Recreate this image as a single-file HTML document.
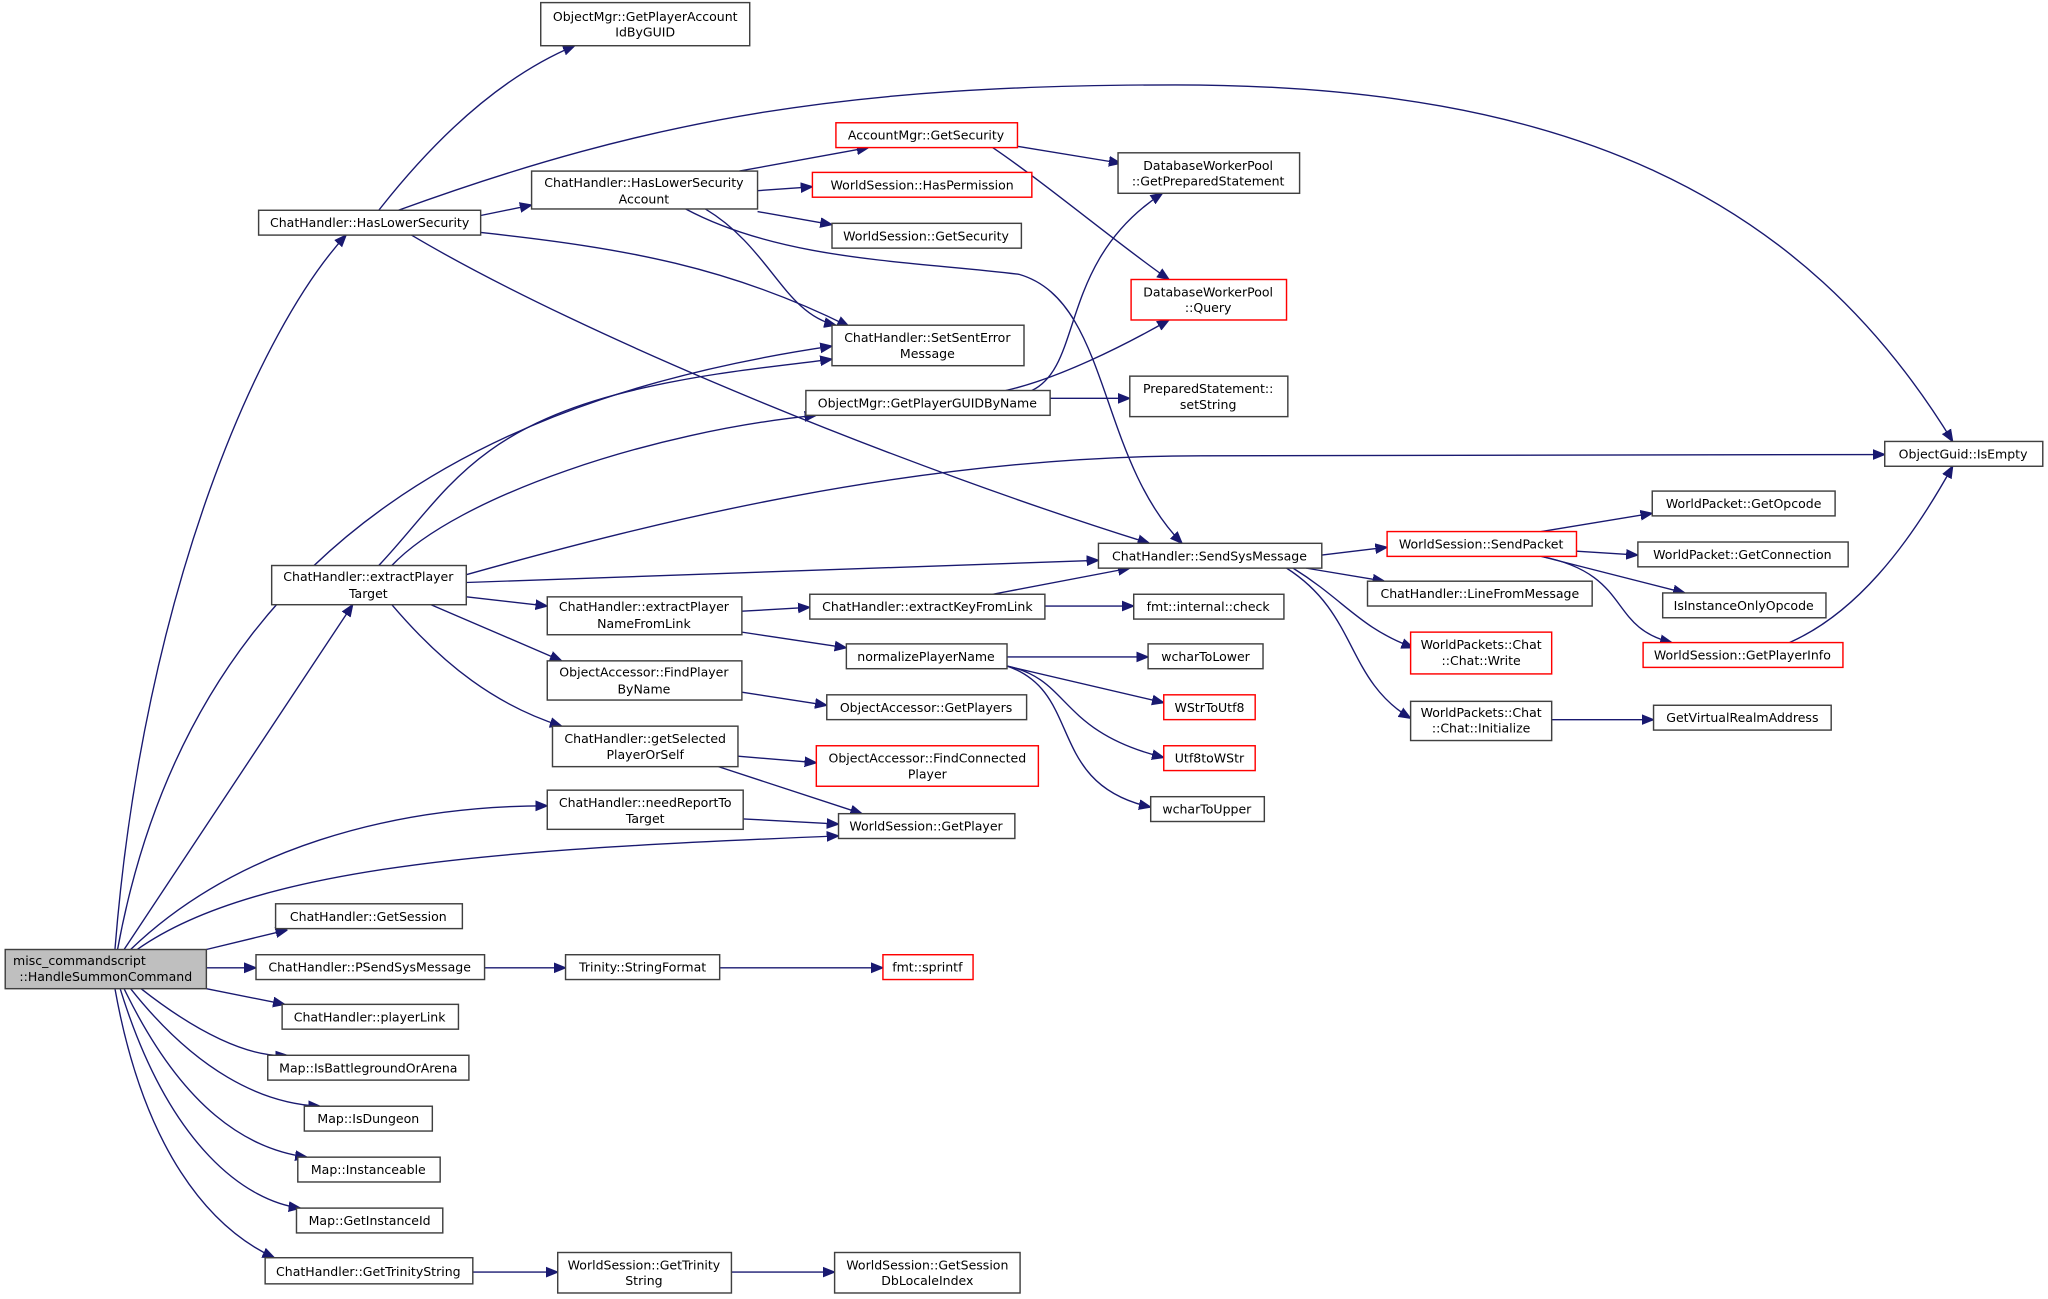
<!DOCTYPE html>
<html><head><meta charset="utf-8"><style>
html,body{margin:0;padding:0;background:#fff;}
svg{display:block}
text{font-family:"DejaVu Sans","Liberation Sans",sans-serif;font-size:9.6px;fill:#000;text-anchor:middle}
.b{fill:#fff;stroke:#404040;stroke-width:1.1}
.r{fill:#fff;stroke:#ff0000;stroke-width:1.1}
.g{fill:#bfbfbf;stroke:#404040;stroke-width:1.1}
path{fill:none;stroke:#191970;stroke-width:1.05;marker-end:url(#a)}
</style></head><body>
<svg width="2048" height="1299" viewBox="0 0 1568 994.6" preserveAspectRatio="none" xmlns="http://www.w3.org/2000/svg">
<defs><marker id="a" viewBox="0 0 10 10" refX="10" refY="5" markerWidth="9" markerHeight="9" markerUnits="userSpaceOnUse" orient="auto"><path d="M0,1 L10,5 L0,9 z" style="fill:#191970;stroke:#191970;marker-end:none"/></marker></defs>

<!-- edges -->
<path d="M88,727 C110,450 200,250 265,180"/>
<path d="M95,727 L270,463"/>
<path d="M90,727 C150,400 400,300 637,265"/>
<path d="M100,727 C180,650 300,617 419,617"/>
<path d="M105,727 C200,660 400,650 642,640"/>
<path d="M158,727 L220,712"/>
<path d="M158,741 L196,741"/>
<path d="M158,757 L218,769"/>
<path d="M108,757 C150,790 190,810 220,808"/>
<path d="M100,757 C150,820 200,845 245,847"/>
<path d="M95,757 C140,850 190,880 235,886"/>
<path d="M92,757 C130,880 190,920 230,925"/>
<path d="M88,757 C110,880 160,940 210,963"/>
<path d="M371,741 L433,741"/>
<path d="M551,741 L676,741"/>
<path d="M362,974 L427,974"/>
<path d="M560,974 L639,974"/>
<path d="M290,161 C330,110 380,60 440,35"/>
<path d="M368,165 L407,157"/>
<path d="M305,161 C500,90 650,65 900,65 C1200,65 1380,150 1495,338"/>
<path d="M368,178 C480,190 560,205 650,250"/>
<path d="M315,180 C450,260 700,360 880,416"/>
<path d="M566,131 L665,113"/>
<path d="M580,146 L622,143"/>
<path d="M580,162 L637,172"/>
<path d="M540,160 C590,190 600,240 640,249"/>
<path d="M525,160 C600,200 700,200 780,210 C850,230 840,350 905,416"/>
<path d="M779,112 L858,125"/>
<path d="M760,113 C800,140 860,190 895,214"/>
<path d="M290,433 C340,380 360,330 480,300 C540,285 600,280 637,275"/>
<path d="M300,433 C350,380 500,330 625,318"/>
<path d="M357,440 C500,400 700,349 920,349 L1443,348"/>
<path d="M357,446 L841,429"/>
<path d="M357,457 L419,464"/>
<path d="M330,463 L430,506"/>
<path d="M300,463 C340,510 380,540 430,556"/>
<path d="M790,299 C830,280 810,200 890,148"/>
<path d="M770,299 C810,290 860,265 895,245"/>
<path d="M804,305 L865,305"/>
<path d="M568,468 L620,465"/>
<path d="M568,484 L648,496"/>
<path d="M760,455 L865,435"/>
<path d="M800,464 L868,464"/>
<path d="M771,503 L879,503"/>
<path d="M771,510 L891,538"/>
<path d="M771,510 C820,520 810,560 891,580"/>
<path d="M771,510 C830,530 800,600 881,618"/>
<path d="M568,530 L633,540"/>
<path d="M565,579 L625,584"/>
<path d="M550,587 L660,623"/>
<path d="M569,627 L642,631"/>
<path d="M1012,425 L1062,419"/>
<path d="M1000,435 L1060,445"/>
<path d="M990,435 C1030,460 1040,480 1082,496"/>
<path d="M985,435 C1040,470 1030,520 1080,550"/>
<path d="M1180,407 L1265,393"/>
<path d="M1207,422 L1254,425"/>
<path d="M1180,426 L1290,454"/>
<path d="M1180,426 C1250,440 1230,480 1280,492"/>
<path d="M1370,492 C1420,470 1460,420 1495,357"/>
<path d="M1188,551 L1266,551"/>

<!-- nodes -->
<rect class="g" x="4" y="727" width="154" height="30"/><text x="81" y="739" style="text-anchor:start" transform="translate(-71,0)">misc_commandscript</text><text x="81" y="751">::HandleSummonCommand</text>
<rect class="b" x="414" y="2" width="160" height="33"/><text x="494" y="16">ObjectMgr::GetPlayerAccount</text><text x="494" y="28">IdByGUID</text>
<rect class="b" x="198" y="161" width="170" height="19"/><text x="283" y="174">ChatHandler::HasLowerSecurity</text>
<rect class="b" x="407" y="131" width="173" height="29"/><text x="493" y="143">ChatHandler::HasLowerSecurity</text><text x="493" y="156">Account</text>
<rect class="r" x="640" y="94" width="139" height="19"/><text x="709" y="107">AccountMgr::GetSecurity</text>
<rect class="r" x="622" y="132" width="168" height="19"/><text x="706" y="145">WorldSession::HasPermission</text>
<rect class="b" x="637" y="171" width="145" height="19"/><text x="709" y="184">WorldSession::GetSecurity</text>
<rect class="b" x="856" y="117" width="139" height="31"/><text x="925" y="130">DatabaseWorkerPool</text><text x="925" y="142">::GetPreparedStatement</text>
<rect class="r" x="866" y="214" width="119" height="31"/><text x="925" y="227">DatabaseWorkerPool</text><text x="925" y="239">::Query</text>
<rect class="b" x="637" y="249" width="147" height="31"/><text x="710" y="262">ChatHandler::SetSentError</text><text x="710" y="274">Message</text>
<rect class="b" x="617" y="299" width="187" height="19"/><text x="710" y="312">ObjectMgr::GetPlayerGUIDByName</text>
<rect class="b" x="865" y="288" width="121" height="31"/><text x="925" y="301">PreparedStatement::</text><text x="925" y="313">setString</text>
<rect class="b" x="1443" y="338" width="121" height="19"/><text x="1503" y="351">ObjectGuid::IsEmpty</text>
<rect class="b" x="208" y="433" width="149" height="30"/><text x="282" y="445">ChatHandler::extractPlayer</text><text x="282" y="458">Target</text>
<rect class="b" x="841" y="416" width="171" height="19"/><text x="926" y="429">ChatHandler::SendSysMessage</text>
<rect class="r" x="1062" y="407" width="145" height="19"/><text x="1134" y="420">WorldSession::SendPacket</text>
<rect class="b" x="1265" y="376" width="140" height="19"/><text x="1335" y="389">WorldPacket::GetOpcode</text>
<rect class="b" x="1254" y="415" width="161" height="19"/><text x="1334" y="428">WorldPacket::GetConnection</text>
<rect class="b" x="1273" y="454" width="125" height="19"/><text x="1335" y="467">IsInstanceOnlyOpcode</text>
<rect class="r" x="1258" y="492" width="153" height="19"/><text x="1334" y="505">WorldSession::GetPlayerInfo</text>
<rect class="b" x="1047" y="445" width="172" height="19"/><text x="1133" y="458">ChatHandler::LineFromMessage</text>
<rect class="r" x="1080" y="484" width="108" height="32"/><text x="1134" y="497">WorldPackets::Chat</text><text x="1134" y="509">::Chat::Write</text>
<rect class="b" x="1080" y="537" width="108" height="30"/><text x="1134" y="549">WorldPackets::Chat</text><text x="1134" y="561">::Chat::Initialize</text>
<rect class="b" x="1266" y="540" width="136" height="19"/><text x="1334" y="553">GetVirtualRealmAddress</text>
<rect class="b" x="419" y="457" width="149" height="29"/><text x="493" y="468">ChatHandler::extractPlayer</text><text x="493" y="481">NameFromLink</text>
<rect class="b" x="620" y="455" width="180" height="19"/><text x="710" y="468">ChatHandler::extractKeyFromLink</text>
<rect class="b" x="868" y="455" width="115" height="19"/><text x="925" y="468">fmt::internal::check</text>
<rect class="b" x="648" y="493" width="123" height="19"/><text x="709" y="506">normalizePlayerName</text>
<rect class="b" x="879" y="493" width="88" height="19"/><text x="923" y="506">wcharToLower</text>
<rect class="r" x="891" y="532" width="70" height="19"/><text x="926" y="545">WStrToUtf8</text>
<rect class="r" x="891" y="571" width="70" height="19"/><text x="926" y="584">Utf8toWStr</text>
<rect class="b" x="881" y="610" width="87" height="19"/><text x="924" y="623">wcharToUpper</text>
<rect class="b" x="419" y="506" width="149" height="30"/><text x="493" y="518">ObjectAccessor::FindPlayer</text><text x="493" y="531">ByName</text>
<rect class="b" x="633" y="532" width="153" height="19"/><text x="709" y="545">ObjectAccessor::GetPlayers</text>
<rect class="b" x="423" y="556" width="142" height="31"/><text x="494" y="569">ChatHandler::getSelected</text><text x="494" y="581">PlayerOrSelf</text>
<rect class="r" x="625" y="571" width="170" height="31"/><text x="710" y="584">ObjectAccessor::FindConnected</text><text x="710" y="596">Player</text>
<rect class="b" x="419" y="605" width="150" height="30"/><text x="494" y="618">ChatHandler::needReportTo</text><text x="494" y="630">Target</text>
<rect class="b" x="642" y="623" width="135" height="19"/><text x="709" y="636">WorldSession::GetPlayer</text>
<rect class="b" x="211" y="692" width="143" height="19"/><text x="282" y="705">ChatHandler::GetSession</text>
<rect class="b" x="196" y="731" width="175" height="19"/><text x="283" y="744">ChatHandler::PSendSysMessage</text>
<rect class="b" x="433" y="731" width="118" height="19"/><text x="492" y="744">Trinity::StringFormat</text>
<rect class="r" x="676" y="731" width="69" height="19"/><text x="710" y="744">fmt::sprintf</text>
<rect class="b" x="216" y="769" width="135" height="19"/><text x="283" y="782">ChatHandler::playerLink</text>
<rect class="b" x="205" y="808" width="154" height="19"/><text x="282" y="821">Map::IsBattlegroundOrArena</text>
<rect class="b" x="233" y="847" width="98" height="19"/><text x="282" y="860">Map::IsDungeon</text>
<rect class="b" x="228" y="886" width="109" height="19"/><text x="282" y="899">Map::Instanceable</text>
<rect class="b" x="227" y="925" width="112" height="19"/><text x="283" y="938">Map::GetInstanceId</text>
<rect class="b" x="203" y="963" width="159" height="20"/><text x="282" y="977">ChatHandler::GetTrinityString</text>
<rect class="b" x="427" y="959" width="133" height="31"/><text x="493" y="972">WorldSession::GetTrinity</text><text x="493" y="984">String</text>
<rect class="b" x="639" y="959" width="142" height="31"/><text x="710" y="972">WorldSession::GetSession</text><text x="710" y="984">DbLocaleIndex</text>
</svg>
</body></html>
